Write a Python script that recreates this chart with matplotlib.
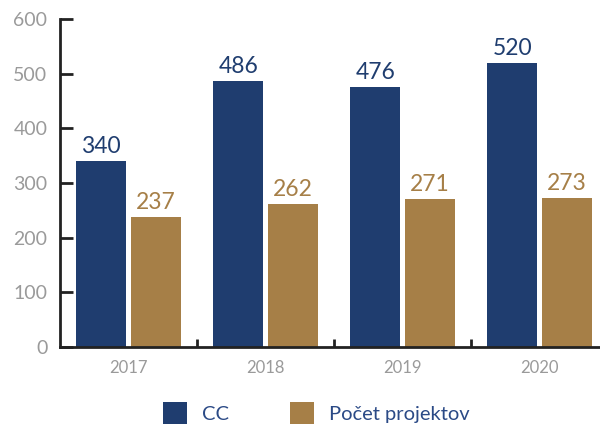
import matplotlib
matplotlib.use("Agg")
import matplotlib.pyplot as plt
import numpy as np
from matplotlib.patches import Patch

years = ["2017", "2018", "2019", "2020"]
cc = [340, 486, 476, 520]
projekty = [237, 262, 271, 273]
series_names = ["CC", "Počet projektov"]
yticks = [0, 100, 200, 300, 400, 500, 600]

navy = "#1f3d6f"
gold = "#a67f47"
gray = "#9a9a9a"
dark = "#222222"

plt.rcParams['font.family'] = ['Lato', 'DejaVu Sans']

fig = plt.figure(figsize=(6, 4.24), dpi=100)
ax = fig.add_axes([0.1, 0.1816, 0.9, 0.7736])

x = np.arange(len(years))
w = 0.365
off = 0.2
b1 = ax.bar(x - off, cc, width=w, color=navy)
b2 = ax.bar(x + off, projekty, width=w, color=gold)

for rect, v in zip(b1, cc):
    ax.annotate(str(v), (rect.get_x() + rect.get_width() / 2, v), xytext=(0, 3),
                textcoords="offset points", ha="center", va="bottom",
                fontsize=16.5, color=navy)
for rect, v in zip(b2, projekty):
    ax.annotate(str(v), (rect.get_x() + rect.get_width() / 2, v), xytext=(0, 3),
                textcoords="offset points", ha="center", va="bottom",
                fontsize=16.5, color=gold)

ax.set_xlim(-0.5, 3.44)
ax.set_ylim(0, 600)
ax.set_yticks(yticks)
ax.set_xticks(x)
ax.set_xticklabels(years)
ax.set_xticks(x[:-1] + 0.5, minor=True)

for s in ["top", "right"]:
    ax.spines[s].set_visible(False)
for s in ["left", "bottom"]:
    ax.spines[s].set_color(dark)
    ax.spines[s].set_linewidth(2)

ax.tick_params(axis="y", direction="in", length=9, width=2, color=dark,
               labelsize=14, labelcolor=gray, pad=9)
ax.tick_params(axis="x", which="major", length=0, labelsize=12,
               labelcolor=gray, pad=9)
ax.tick_params(axis="x", which="minor", direction="in", length=6, width=2,
               color=dark)

handles = [Patch(facecolor=navy), Patch(facecolor=gold)]
leg = fig.legend(handles, series_names, loc="center", bbox_to_anchor=(0.527, 0.026),
                 ncol=2, frameon=False, fontsize=14.5, handlelength=1.2,
                 handleheight=1.25, columnspacing=3.0, handletextpad=0.75)
for t in leg.get_texts():
    t.set_color("#2b4a86")

fig.savefig("out.png", dpi=100)
